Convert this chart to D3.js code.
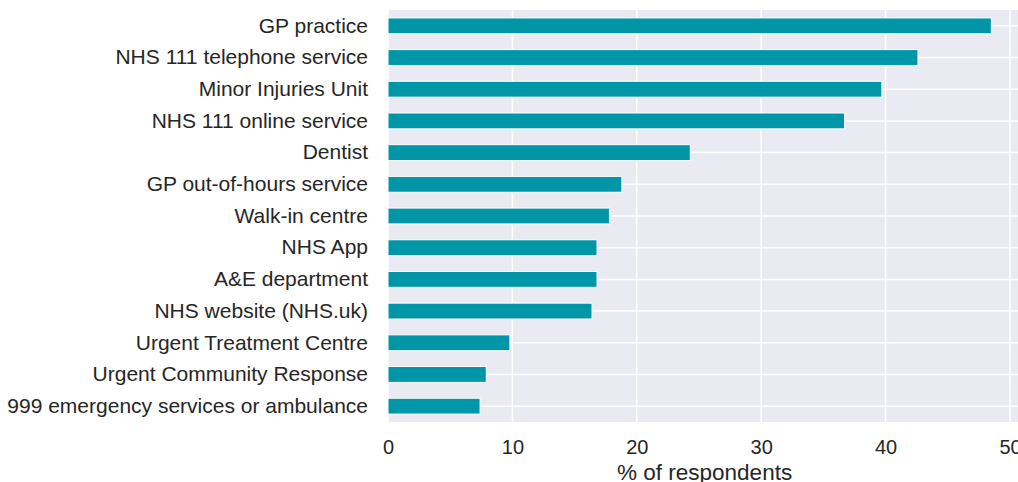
<!DOCTYPE html>
<html lang="en">
<head>
  <meta charset="UTF-8">
  <title>Services used</title>
  <script src="https://d3js.org/d3.v7.min.js"></script>
  <style>
    body { margin: 0; background: #fff; }
    .axis text {
      font-family: "Liberation Sans", Arial, sans-serif;
      font-size: 21px;
      fill: #262626;
    }
    .x.axis text {
      font-size: 20px;
    }
    .axis-label {
      font-family: "Liberation Sans", Arial, sans-serif;
      font-size: 22.5px;
      fill: #262626;
    }
  </style>
</head>
<body>
<svg id="chart" width="1018" height="482"></svg>
<script>
  // services, top to bottom
  const services = [
    "GP practice",
    "NHS 111 telephone service",
    "Minor Injuries Unit",
    "NHS 111 online service",
    "Dentist",
    "GP out-of-hours service",
    "Walk-in centre",
    "NHS App",
    "A&E department",
    "NHS website (NHS.uk)",
    "Urgent Treatment Centre",
    "Urgent Community Response",
    "999 emergency services or ambulance"
  ];
  const percents = [48.5, 42.6, 39.7, 36.7, 24.3, 18.8, 17.8, 16.8, 16.8, 16.4, 9.8, 7.9, 7.4];
  const xTicks = [0, 10, 20, 30, 40, 50];

  const plotLeft = 388, plotTop = 10, plotBottom = 422;
  const xMax = 50.9;

  const svg = d3.select("#chart");

  const x = d3.scaleLinear()
          .domain([0, xMax])
          .range([plotLeft, plotLeft + xMax * 12.44]);

  const y = d3.scaleBand()
          .domain(services)
          .range([plotTop, plotBottom])
          .paddingInner(0.5)
          .paddingOuter(0.25);

  // grey plot background
  svg.append("rect")
          .attr("x", x(0))
          .attr("y", plotTop)
          .attr("width", x(xMax) - x(0))
          .attr("height", plotBottom - plotTop)
          .attr("fill", "#eaeaf2");

  // vertical grid
  svg.append("g")
          .selectAll("line")
          .data(xTicks)
          .enter().append("line")
          .attr("x1", d => x(d))
          .attr("x2", d => x(d))
          .attr("y1", plotTop)
          .attr("y2", plotBottom)
          .attr("stroke", "#fff")
          .attr("stroke-width", 1.5);

  // horizontal grid at bar centres
  svg.append("g")
          .selectAll("line")
          .data(services)
          .enter().append("line")
          .attr("x1", x(0))
          .attr("x2", x(xMax))
          .attr("y1", d => y(d) + y.bandwidth() / 2)
          .attr("y2", d => y(d) + y.bandwidth() / 2)
          .attr("stroke", "#fff")
          .attr("stroke-width", 1.5);

  svg.append("g")
          .selectAll("rect")
          .data(percents)
          .enter().append("rect")
          .attr("x", x(0))
          .attr("y", (d, i) => y(services[i]))
          .attr("width", d => x(d) - x(0))
          .attr("height", y.bandwidth())
          .attr("fill", "#0096a8")
          .attr("stroke", "#fff")
          .attr("stroke-width", 1);

  const xAxis = svg.append("g")
          .attr("class", "x axis")
          .attr("transform", "translate(0," + plotBottom + ")")
          .call(d3.axisBottom(x).tickValues(xTicks).tickSize(0).tickPadding(18));
  xAxis.select(".domain").remove();

  const yAxis = svg.append("g")
          .attr("class", "y axis")
          .attr("transform", "translate(" + plotLeft + ",0)")
          .call(d3.axisLeft(y).tickSize(0).tickPadding(20));
  yAxis.select(".domain").remove();

  svg.append("text")
          .attr("class", "axis-label")
          .attr("x", (x(0) + x(xMax)) / 2)
          .attr("y", 480)
          .style("text-anchor", "middle")
          .text("% of respondents");
</script>
</body>
</html>
